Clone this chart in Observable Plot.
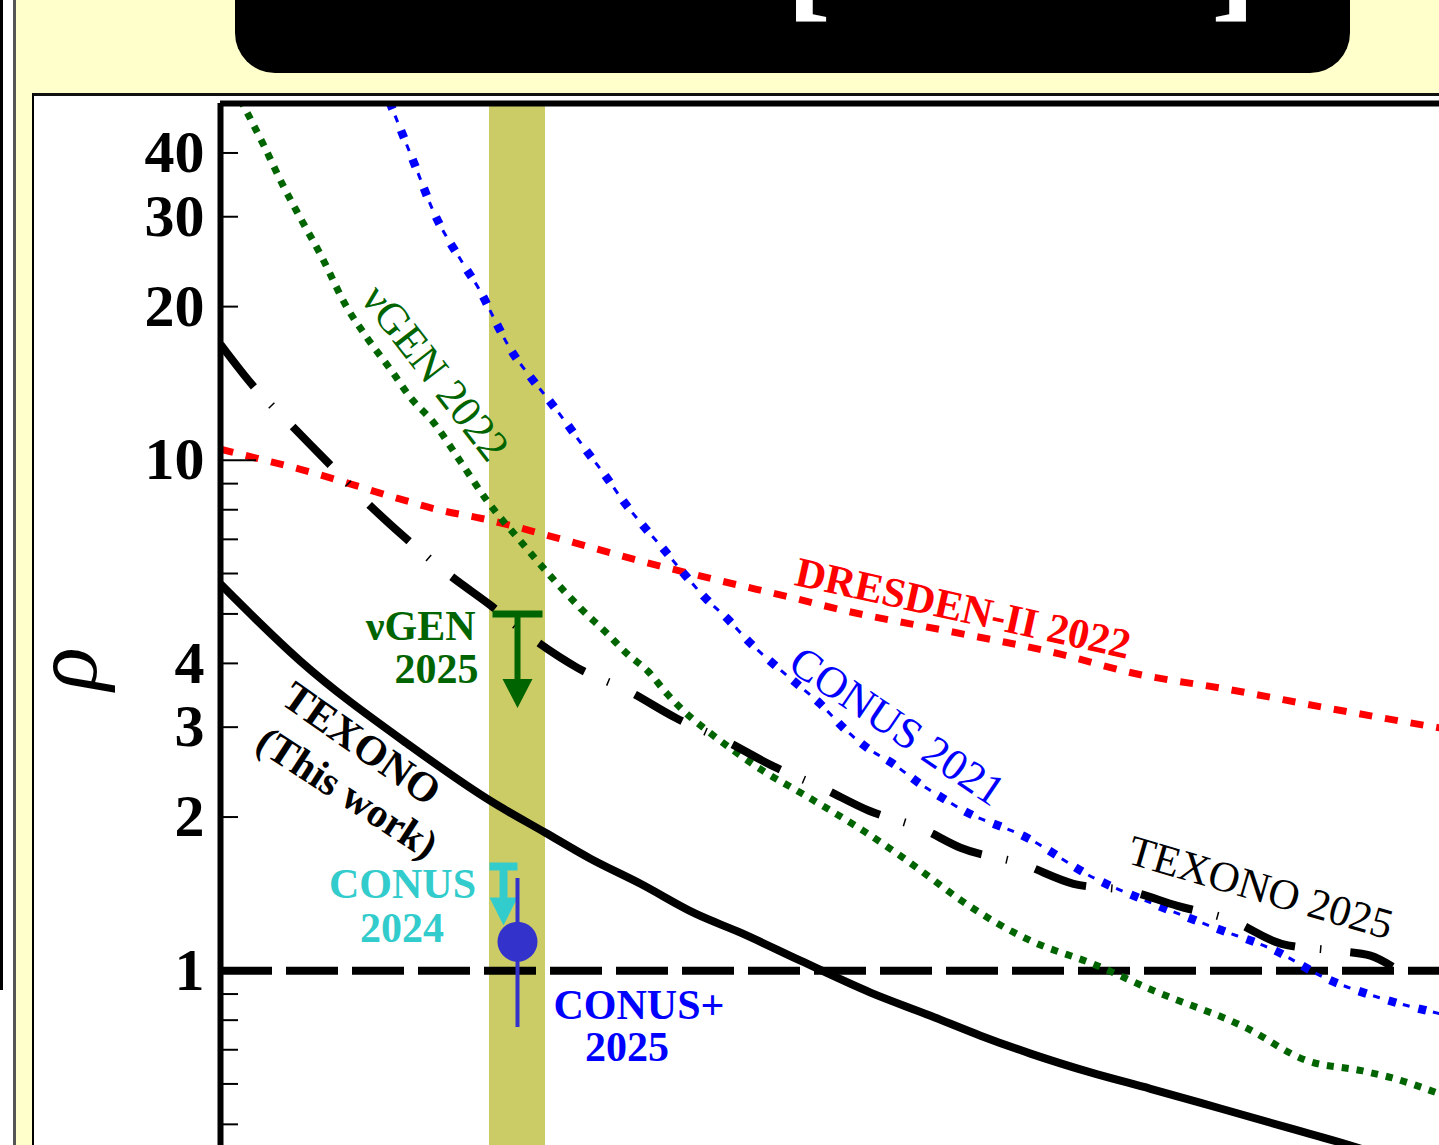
<!DOCTYPE html>
<html>
<head>
<meta charset="utf-8">
<script src="https://cdn.jsdelivr.net/npm/d3@7"></script>
<script src="https://cdn.jsdelivr.net/npm/@observablehq/plot@0.6"></script>
<style>
  html, body { margin: 0; padding: 0; background: #ffffcc; }
  #page { position: relative; width: 1439px; height: 1145px; overflow: hidden; background: #ffffcc; }
  .abs { position: absolute; }
</style>
</head>
<body>
<div id="page">
  <div class="abs" style="left:0;top:0;width:13px;height:1145px;background:#ffffff"></div>
  <div class="abs" style="left:0;top:0;width:3px;height:990px;background:#000000"></div>
  <div class="abs" style="left:13px;top:0;width:3px;height:1145px;background:#555555"></div>
  <div class="abs" style="left:235px;top:-80px;width:1115px;height:153px;background:#000;border-radius:0 0 40px 40px"></div>
  <svg class="abs" style="left:0;top:0" width="1439" height="90">
    <text id="brL" x="786" y="3" font-family="Liberation Serif" font-weight="bold" font-size="135" fill="#fff">[</text>
    <text id="brR" x="1256" y="3" text-anchor="end" font-family="Liberation Serif" font-weight="bold" font-size="135" fill="#fff">]</text>
  </svg>
  <div class="abs" style="left:32px;top:93px;width:1420px;height:1100px;background:#fff;border-top:3px solid #111;border-left:2px solid #000"></div>
  <div id="chart" class="abs" style="left:34px;top:96px"></div>
</div>
<script>
// ---- data (x in arbitrary linear units across the visible frame, rho on log scale) ----
const texonoThisWork = [[0,5.72],[8,4.04],[19,2.756],[27,2.151],[32.5,1.863],[37,1.657],[42,1.480],[47.5,1.293],[52,1.187],[58,1.046],[65,0.906],[71,0.816],[76,0.746],[81,0.688],[87,0.632],[93,0.587],[100,0.537],[107,0.491],[113,0.4545],[119,0.415]];
const texono2025 = [[0,16.87],[3.3,13.96],[7,11.76],[10.8,9.87],[14.7,8.24],[18.5,7.04],[22.8,5.98],[27,5.20],[31.3,4.46],[35.7,3.92],[40.8,3.53],[45.5,3.13],[50.5,2.82],[55.2,2.52],[60.2,2.28],[64.8,2.06],[70.2,1.896],[74,1.741],[80.1,1.620],[85.3,1.480],[90.8,1.434],[95.7,1.340],[101.2,1.253],[106.1,1.129],[111.6,1.094],[115,1.070],[117.2,1.018]];
const dresden2022 = [[0,10.51],[4,10.05],[8,9.60],[12.7,9.02],[18,8.39],[22,7.98],[26,7.70],[33.7,7.04],[41.3,6.40],[49.3,5.85],[57.3,5.37],[62.7,5.06],[72.7,4.63],[84,4.17],[91.2,3.83],[100.7,3.56],[110.7,3.27],[121.9,2.99]];
const conus2021 = [[16.9,50.4],[19.5,37.6],[21.3,30.7],[24.3,24.2],[26,21.4],[27.5,18.71],[29,16.49],[30.8,14.73],[32.7,13.22],[34.7,11.75],[36.5,10.50],[38.4,9.38],[40.3,8.31],[42.3,7.43],[44.3,6.70],[46.3,6.01],[48.5,5.37],[50.7,4.89],[53,4.38],[55.3,3.99],[57.7,3.64],[60,3.33],[62.3,2.99],[64.7,2.73],[67.3,2.54],[70,2.32],[72.7,2.15],[74,2.075],[80.7,1.820],[87.3,1.521],[93.3,1.352],[99.4,1.214],[105.5,1.094],[110.4,0.969],[115.9,0.885],[121.9,0.824]];
const nugen2022 = [[2,50.87],[4.3,41.5],[6.3,34.4],[8,29.8],[10,25.3],[12.7,19.84],[14.7,17.33],[17.3,14.79],[19,13.27],[21.3,11.86],[24,9.94],[26.7,8.31],[30,6.94],[33,5.93],[36,5.13],[38.7,4.57],[40.7,4.17],[42.7,3.87],[44.7,3.48],[46.3,3.23],[48.7,2.95],[51.3,2.70],[54.3,2.46],[57.7,2.25],[61,2.06],[64.3,1.879],[67.7,1.694],[71,1.521],[73.7,1.389],[81,1.145],[87.2,1.032],[93.3,0.914],[102.5,0.774],[108.6,0.667],[114.1,0.637],[117.1,0.617],[121.9,0.574]];
const unity = [1];
const band = [{x1: 26.9, x2: 32.5}];
const nugen2025Limit = [{x: 29.7, rho: 5.0}];
const conus2024Limit = [{x: 28.3, rho: 1.6}];
const conusPlus2025 = [{x: 29.7, rho: 1.14, lo: 0.774, hi: 1.516}];
const yTicksMinor = [0.5,0.6,0.7,0.8,0.9,2,3,4,5,6,7,8,9,20,30,40];
const yTicksDecade = [1,10];
const yTickLabels = [1,2,3,4,10,20,30,40];
const labelAnchors = {
  nugen2022: {text: "νGEN 2022", x: 21.45, rho: 14.83},
  dresden2022: {text: "DRESDEN-II 2022", x: 74.25, rho: 5.123},
  conus2021: {text: "CONUS 2021", x: 67.65, rho: 3.009},
  texono2025: {text: "TEXONO 2025", x: 104.0, rho: 1.452},
  texonoA: {text: "TEXONO", x: 14.1, rho: 2.780},
  texonoB: {text: "(This work)", x: 12.65, rho: 2.229},
  nugen2025A: {text: "νGEN", x: 25.5, rho: 4.714},
  nugen2025B: {text: "2025", x: 25.8, rho: 3.899},
  conus2024A: {text: "CONUS", x: 18.2, rho: 1.475},
  conus2024B: {text: "2024", x: 18.15, rho: 1.207},
  conusPlusA: {text: "CONUS+", x: 41.85, rho: 0.8546},
  conusPlusB: {text: "2025", x: 40.65, rho: 0.7055}
};

// ---- styling ----
const serif = "Liberation Serif, Times New Roman, serif";
const GREEN = "#006400", RED = "#ff0000", BLUE = "#0000ff", CYAN = "#33cccc", DOT = "#3333cc";

function limitSymbol(g) {
  return {draw(ctx) {
    const {bw, bh, sw, sl, tw, th} = g;
    ctx.moveTo(-bw/2, -bh/2); ctx.lineTo(bw/2, -bh/2); ctx.lineTo(bw/2, bh/2); ctx.lineTo(-bw/2, bh/2); ctx.closePath();
    ctx.moveTo(-sw/2, 0); ctx.lineTo(sw/2, 0); ctx.lineTo(sw/2, sl); ctx.lineTo(-sw/2, sl); ctx.closePath();
    ctx.moveTo(-tw/2, sl); ctx.lineTo(tw/2, sl); ctx.lineTo(0, sl + th); ctx.closePath();
  }};
}
const px = d => d[0], py = d => d[1];
const lineOpts = {x: px, y: py, curve: "monotone-x", clip: true, strokeLinecap: "butt", strokeLinejoin: "round"};
function label(key, opts) {
  return Plot.text([labelAnchors[key]], {x: "x", y: "rho", text: "text", fontFamily: serif, fontSize: 42, fontWeight: "bold", ...opts});
}

const chart = Plot.plot({
  width: 1405,
  height: 1049,
  marginLeft: 186,
  marginTop: 7,
  marginRight: 0,
  marginBottom: 0,
  style: {background: "transparent", overflow: "visible"},
  x: {domain: [0, 121.9], axis: null},
  y: {type: "log", domain: [0.4545, 50], label: null},
  marks: [
    Plot.rect(band, {x1: "x1", x2: "x2", fill: "#cccc66"}),
    Plot.ruleY(unity, {stroke: "#000", strokeWidth: 8, strokeDasharray: "52,14"}),
    Plot.line(dresden2022, {...lineOpts, stroke: RED, strokeWidth: 7, strokeDasharray: "13,13"}),
    Plot.line(nugen2022, {...lineOpts, stroke: GREEN, strokeWidth: 7, strokeDasharray: "7,8"}),
    Plot.line(conus2021, {...lineOpts, stroke: BLUE, strokeWidth: 8.5, strokeDasharray: "8,23"}),
    Plot.line(conus2021, {...lineOpts, stroke: BLUE, strokeWidth: 3, strokeDasharray: "7,24", strokeDashoffset: 16}),
    Plot.line(texono2025, {...lineOpts, stroke: "#000", strokeWidth: 8, strokeDasharray: "54,25,1.5,29"}),
    Plot.line(texonoThisWork, {...lineOpts, stroke: "#000", strokeWidth: 8}),
    Plot.dot(nugen2025Limit, {x: "x", y: "rho", r: 10, fill: GREEN, stroke: null, symbol: limitSymbol({bw: 50, bh: 7, sw: 6, sl: 65, tw: 30, th: 29})}),
    Plot.dot(conus2024Limit, {x: "x", y: "rho", r: 10, fill: CYAN, stroke: null, symbol: limitSymbol({bw: 28, bh: 8, sw: 8, sl: 31, tw: 28, th: 28})}),
    Plot.ruleX(conusPlus2025, {x: "x", y1: "lo", y2: "hi", stroke: DOT, strokeWidth: 4}),
    Plot.dot(conusPlus2025, {x: "x", y: "rho", r: 20, fill: DOT, stroke: null}),
    label("nugen2022", {fill: GREEN, rotate: 52, fontSize: 44, fontWeight: "normal"}),
    label("dresden2022", {fill: RED, rotate: 12.5}),
    label("conus2021", {fill: BLUE, rotate: 34, fontSize: 44, fontWeight: "normal"}),
    label("texono2025", {fill: "#000", rotate: 16.3, fontSize: 43, fontWeight: "normal"}),
    label("texonoA", {fill: "#000", rotate: 35}),
    label("texonoB", {fill: "#000", rotate: 33, fontSize: 41}),
    label("nugen2025A", {fill: GREEN, textAnchor: "end"}),
    label("nugen2025B", {fill: GREEN, textAnchor: "end"}),
    label("conus2024A", {fill: CYAN}),
    label("conus2024B", {fill: CYAN}),
    label("conusPlusA", {fill: BLUE}),
    label("conusPlusB", {fill: BLUE}),
    Plot.axisY(yTicksMinor, {anchor: "left", tickSize: -18, strokeWidth: 2, tickFormat: () => "", label: null}),
    Plot.axisY(yTicksDecade, {anchor: "left", tickSize: -36, strokeWidth: 2, tickFormat: () => "", label: null}),
    Plot.axisY(yTickLabels, {anchor: "left", tickSize: 0, tickPadding: 16, tickFormat: d => String(d), fontSize: 60, fontWeight: "bold", fontFamily: serif, label: null}),
    Plot.text(["ρ"], {x: 0, y: 3.9, dx: -153, rotate: -90, fontSize: 90, fontStyle: "italic", fontFamily: serif, fill: "#000"}),
    Plot.ruleX([0], {stroke: "#000", strokeWidth: 6}),
    Plot.ruleY([50], {stroke: "#000", strokeWidth: 6})
  ]
});
document.getElementById("chart").appendChild(chart);
</script>
</body>
</html>
